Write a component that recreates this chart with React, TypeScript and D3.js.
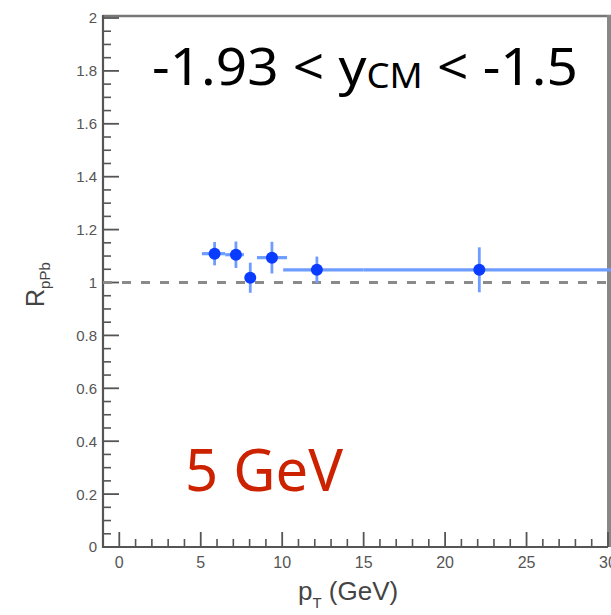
import React from "react";
import * as d3 from "d3";

const ptCenters = [5.85, 7.16, 8.04, 9.37, 12.13, 22.1];
const ptLow = [5.07, 6.5, 7.85, 8.45, 10.06, 15.0];
const ptHigh = [6.5, 7.65, 8.25, 10.3, 15.0, 35.0];
const rValues = [1.109, 1.105, 1.018, 1.094, 1.048, 1.048];
const rErrors = [0.044, 0.05, 0.057, 0.06, 0.05, 0.085];

const xMajorTicks = [0, 5, 10, 15, 20, 25, 30];
const yMajorTicks = [0, 0.2, 0.4, 0.6, 0.8, 1, 1.2, 1.4, 1.6, 1.8, 2];
const yTickLabels = ["0", "0.2", "0.4", "0.6", "0.8", "1", "1.2", "1.4", "1.6", "1.8", "2"];

const W = 611;
const H = 615;

export default function App() {
  const x = d3.scaleLinear().domain([-1, 30]).range([103, 608]);
  const y = d3.scaleLinear().domain([0, 2]).range([547, 18]);

  const xMinor = d3.range(-1, 31, 1).filter((v) => v % 5 !== 0);
  const yMinor = d3.range(0, 2.001, 0.05).filter((v) => Math.abs(v / 0.2 - Math.round(v / 0.2)) > 0.01);

  const axisColor = "#555";
  const labelColor = "#555";
  const errColor = "#6f9cff";
  const markColor = "#0a3cff";

  return (
    <svg
      width={W}
      height={H}
      style={{ position: "absolute", left: 0, top: 0, background: "#fff" }}
    >
      <defs>
        <clipPath id="plotclip">
          <rect x={x(-1)} y={y(2)} width={W - x(-1)} height={y(0) - y(2)} />
        </clipPath>
      </defs>
      <rect x={0} y={0} width={W} height={H} fill="#fff" />

      {/* frame */}
      <line x1={x(-1)} x2={W} y1={y(2) - 2} y2={y(2) - 2} stroke="#777" strokeWidth={2.5} />
      <line x1={x(30) + 1} x2={x(30) + 1} y1={y(2) - 3} y2={y(0)} stroke="#888" strokeWidth={4} />

      {/* axes */}
      <line x1={x(-1)} x2={x(-1)} y1={y(2) - 3} y2={y(0) + 1} stroke={axisColor} strokeWidth={2.2} />
      <line x1={x(-1)} x2={x(30)} y1={y(0)} y2={y(0)} stroke={axisColor} strokeWidth={2.2} />

      {yMajorTicks.map((v) => (
        <line key={"ym" + v} x1={x(-1)} x2={x(-1) + 16} y1={y(v)} y2={y(v)} stroke={axisColor} strokeWidth={1.8} />
      ))}
      {yMinor.map((v) => (
        <line key={"yn" + v} x1={x(-1)} x2={x(-1) + 8} y1={y(v)} y2={y(v)} stroke={axisColor} strokeWidth={1.6} />
      ))}
      {xMajorTicks.map((v) => (
        <line key={"xm" + v} x1={x(v)} x2={x(v)} y1={y(0)} y2={y(0) - 15} stroke={axisColor} strokeWidth={1.8} />
      ))}
      {xMinor.map((v) => (
        <line key={"xn" + v} x1={x(v)} x2={x(v)} y1={y(0)} y2={y(0) - 8} stroke={axisColor} strokeWidth={1.6} />
      ))}

      {yMajorTicks.map((v, i) => (
        <text
          key={"yl" + v}
          x={x(-1) - 6}
          y={y(v)}
          dy="0.36em"
          textAnchor="end"
          fontFamily="Liberation Sans, Arial, sans-serif"
          fontSize={15}
          fill={labelColor}
        >
          {yTickLabels[i]}
        </text>
      ))}
      {xMajorTicks.map((v) => (
        <text
          key={"xl" + v}
          x={x(v)}
          y={568}
          textAnchor="middle"
          fontFamily="Liberation Sans, Arial, sans-serif"
          fontSize={16}
          fill={labelColor}
        >
          {v}
        </text>
      ))}

      {/* axis titles */}
      <text
        x={298}
        y={600}
        fontFamily="Liberation Sans, Arial, sans-serif"
        fontSize={26}
        fill="#444"
      >
        p
        <tspan fontSize={15} dy={8}>T</tspan>
        <tspan dy={-8}> (GeV)</tspan>
      </text>
      <text
        transform={`translate(44,307) rotate(-90)`}
        fontFamily="Liberation Sans, Arial, sans-serif"
        fontSize={25}
        fill="#444"
      >
        R
        <tspan fontSize={15} dy={6}>pPb</tspan>
      </text>

      {/* reference line */}
      <line
        x1={x(-1)}
        x2={x(30)}
        y1={y(1)}
        y2={y(1)}
        stroke="#8a8a8a"
        strokeWidth={3}
        strokeDasharray="9,10"
      />

      {/* data */}
      <g clipPath="url(#plotclip)">
        {ptCenters.map((p, i) => (
          <g key={"pt" + i}>
            <line
              x1={x(ptLow[i])}
              x2={x(ptHigh[i])}
              y1={y(rValues[i])}
              y2={y(rValues[i])}
              stroke={errColor}
              strokeWidth={3.2}
            />
            <line
              x1={x(p)}
              x2={x(p)}
              y1={y(rValues[i] - rErrors[i])}
              y2={y(rValues[i] + rErrors[i])}
              stroke={errColor}
              strokeWidth={2.8}
            />
            <circle cx={x(p)} cy={y(rValues[i])} r={6} fill={markColor} />
          </g>
        ))}
      </g>

      {/* annotations */}
      <g transform="translate(152,85) scale(1.076,1)">
        <text x={0} y={0} fontFamily="Noto Sans, Open Sans, sans-serif" fontSize={51} fill="#000">
          -1.93 &lt; y
          <tspan fontSize={34} dy={3}>CM</tspan>
          <tspan dy={-3}> &lt; -1.5</tspan>
        </text>
      </g>
      <text x={185} y={491} fontFamily="Noto Sans, Open Sans, sans-serif" fontSize={58} fill="#cc2200">
        5 GeV
      </text>
    </svg>
  );
}
